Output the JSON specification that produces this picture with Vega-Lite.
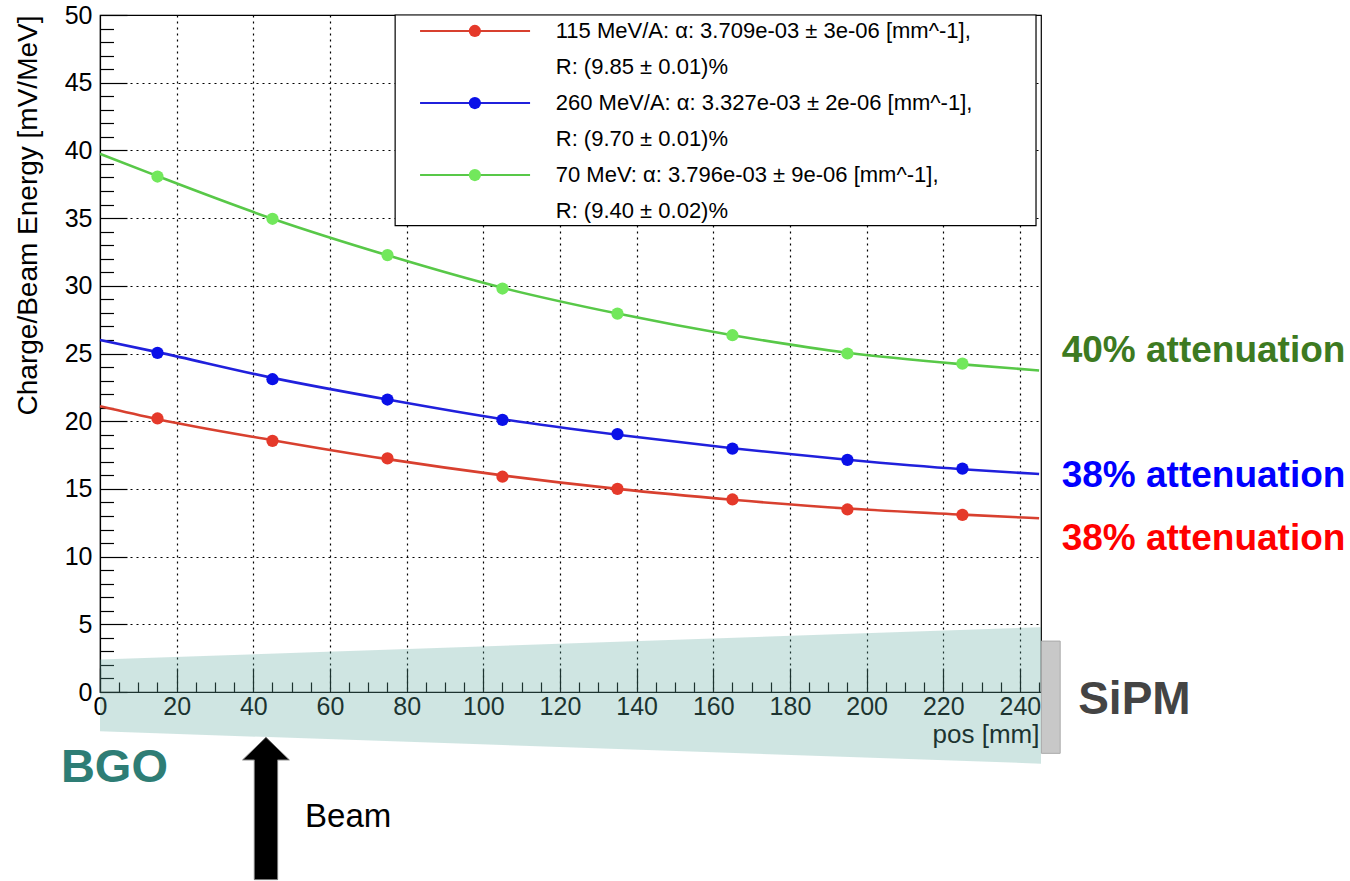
{
  "$schema": "https://vega.github.io/schema/vega-lite/v6.json",
  "width": 941,
  "height": 677,
  "autosize": {"type": "none"},
  "padding": {"left": 100, "top": 15, "right": 309, "bottom": 189},
  "background": "white",
  "config": {
    "font": "Liberation Sans",
    "view": {"stroke": "#000000", "strokeWidth": 1.2},
    "axis": {"zindex": 0}
  },
  "datasets": {
    "points": [
      {"series": "115", "pos": 15, "val": 20.2}, {"series": "115", "pos": 45, "val": 18.55}, {"series": "115", "pos": 75, "val": 17.25}, {"series": "115", "pos": 105, "val": 15.9},
      {"series": "115", "pos": 135, "val": 15.0}, {"series": "115", "pos": 165, "val": 14.22}, {"series": "115", "pos": 195, "val": 13.48}, {"series": "115", "pos": 225, "val": 13.08},
      {"series": "260", "pos": 15, "val": 25.05}, {"series": "260", "pos": 45, "val": 23.1}, {"series": "260", "pos": 75, "val": 21.6}, {"series": "260", "pos": 105, "val": 20.1},
      {"series": "260", "pos": 135, "val": 19.05}, {"series": "260", "pos": 165, "val": 17.98}, {"series": "260", "pos": 195, "val": 17.14}, {"series": "260", "pos": 225, "val": 16.5},
      {"series": "70", "pos": 15, "val": 38.07}, {"series": "70", "pos": 45, "val": 34.95}, {"series": "70", "pos": 75, "val": 32.27}, {"series": "70", "pos": 105, "val": 29.8},
      {"series": "70", "pos": 135, "val": 27.95}, {"series": "70", "pos": 165, "val": 26.35}, {"series": "70", "pos": 195, "val": 25.0}, {"series": "70", "pos": 225, "val": 24.25}
    ],
    "curves": [
      {"series": "115", "pos": 0, "val": 21.1}, {"series": "115", "pos": 15, "val": 20.15}, {"series": "115", "pos": 45, "val": 18.6}, {"series": "115", "pos": 75, "val": 17.2},
      {"series": "115", "pos": 105, "val": 16.0}, {"series": "115", "pos": 135, "val": 15.0}, {"series": "115", "pos": 165, "val": 14.2}, {"series": "115", "pos": 195, "val": 13.55},
      {"series": "115", "pos": 225, "val": 13.1}, {"series": "115", "pos": 245, "val": 12.83},
      {"series": "260", "pos": 0, "val": 26.0}, {"series": "260", "pos": 15, "val": 25.1}, {"series": "260", "pos": 45, "val": 23.2}, {"series": "260", "pos": 75, "val": 21.6},
      {"series": "260", "pos": 105, "val": 20.15}, {"series": "260", "pos": 135, "val": 19.0}, {"series": "260", "pos": 165, "val": 18.0}, {"series": "260", "pos": 195, "val": 17.15},
      {"series": "260", "pos": 225, "val": 16.45}, {"series": "260", "pos": 245, "val": 16.1},
      {"series": "70", "pos": 0, "val": 39.75}, {"series": "70", "pos": 15, "val": 38.1}, {"series": "70", "pos": 45, "val": 34.95}, {"series": "70", "pos": 75, "val": 32.25},
      {"series": "70", "pos": 105, "val": 29.85}, {"series": "70", "pos": 135, "val": 27.95}, {"series": "70", "pos": 165, "val": 26.35}, {"series": "70", "pos": 195, "val": 25.05},
      {"series": "70", "pos": 225, "val": 24.2}, {"series": "70", "pos": 245, "val": 23.75}
    ],
    "bgo": [
      {"pos": 0, "top": 2.4, "bottom": -2.9},
      {"pos": 245.5, "top": 4.79, "bottom": -5.29}
    ],
    "legend": [
      {"series": "115", "l1": "115 MeV/A: α: 3.709e-03 ± 3e-06 [mm^-1],", "l2": "R: (9.85 ± 0.01)%"},
      {"series": "260", "l1": "260 MeV/A: α: 3.327e-03 ± 2e-06 [mm^-1],", "l2": "R: (9.70 ± 0.01)%"},
      {"series": "70", "l1": "70 MeV: α: 3.796e-03 ± 9e-06 [mm^-1],", "l2": "R: (9.40 ± 0.02)%"}
    ]
  },
  "layer": [
    {
      "data": {"name": "curves"},
      "mark": {"type": "line", "strokeWidth": 2.6, "interpolate": "monotone"},
      "encoding": {
        "x": {
          "field": "pos", "type": "quantitative",
          "scale": {"domain": [0, 245.5], "nice": false, "zero": false},
          "axis": {
            "title": "pos [mm]",
            "tickCount": 49,
            "labelExpr": "datum.value % 20 === 0 ? datum.label : ''",
            "labelFontSize": 25, "labelColor": "#000000", "labelPadding": 26,
            "labelFlush": false, "labelOverlap": false, "labelBound": false,
            "tickSize": {"condition": {"test": "datum.value % 20 === 0", "value": -24}, "value": -10},
            "tickColor": "#000000", "tickWidth": 1.2,
            "domainColor": "#000000", "domainWidth": 1.2,
            "grid": true, "gridColor": "#000000", "gridDash": [2, 4], "gridWidth": 1.2,
            "gridOpacity": {"condition": {"test": "datum.value % 20 === 0 && datum.value > 0", "value": 1}, "value": 0},
            "titleFontSize": 26, "titleFontWeight": "normal", "titleColor": "#000000",
            "titleAnchor": "end", "titleAlign": "right", "titleX": 939, "titleY": 50, "titleBaseline": "alphabetic"
          }
        },
        "y": {
          "field": "val", "type": "quantitative",
          "scale": {"domain": [0, 50], "nice": false, "zero": false},
          "axis": {
            "title": "Charge/Beam Energy [mV/MeV]",
            "tickCount": 50,
            "labelExpr": "datum.value % 5 === 0 ? datum.label : ''",
            "labelFontSize": 25, "labelColor": "#000000", "labelPadding": 35,
            "labelFlush": false, "labelOverlap": false, "labelBound": false,
            "tickSize": {"condition": {"test": "datum.value % 5 === 0", "value": -27}, "value": -13.5},
            "tickColor": "#000000", "tickWidth": 1.2,
            "domainColor": "#000000", "domainWidth": 1.2,
            "grid": true, "gridColor": "#000000", "gridDash": [2, 4], "gridWidth": 1.2,
            "gridOpacity": {"condition": {"test": "datum.value % 5 === 0 && datum.value > 0 && datum.value < 50", "value": 1}, "value": 0},
            "titleFontSize": 28, "titleFontWeight": "normal", "titleColor": "#000000",
            "titleAnchor": "end", "titleAlign": "right", "titleAngle": -90, "titleX": -72, "titleY": 0, "titleBaseline": "middle"
          }
        },
        "stroke": {
          "field": "series", "type": "nominal",
          "scale": {"domain": ["115", "260", "70"], "range": ["#d8402f", "#2020dc", "#58c848"]},
          "legend": null
        }
      }
    },
    {
      "data": {"name": "points"},
      "mark": {"type": "point", "shape": "circle", "filled": true, "size": 150, "opacity": 1, "strokeWidth": 0},
      "encoding": {
        "x": {"field": "pos", "type": "quantitative"},
        "y": {"field": "val", "type": "quantitative"},
        "fill": {
          "field": "series", "type": "nominal",
          "scale": {"domain": ["115", "260", "70"], "range": ["#e5392a", "#0a10e8", "#72e85c"]},
          "legend": null
        }
      }
    },
    {
      "data": {"values": [{}]},
      "mark": {"type": "rect", "fill": "#ffffff", "stroke": "#000000", "strokeWidth": 1.2},
      "encoding": {
        "x": {"datum": 77}, "x2": {"datum": 244.2},
        "y": {"datum": 50}, "y2": {"datum": 34.45}
      }
    },
    {
      "data": {"name": "bgo"},
      "mark": {"type": "area", "fill": "#5fa8a0", "opacity": 0.3},
      "encoding": {
        "x": {"field": "pos", "type": "quantitative"},
        "y": {"field": "top", "type": "quantitative"},
        "y2": {"field": "bottom"}
      }
    },
    {
      "data": {"values": [{}]},
      "mark": {"type": "rect", "fill": "#c8c8c8", "stroke": "#a9a9a9", "strokeWidth": 1},
      "encoding": {
        "x": {"datum": 245.6}, "x2": {"datum": 250.5},
        "y": {"datum": 3.76}, "y2": {"datum": -4.53}
      }
    },
    {
      "data": {"values": [{}]},
      "mark": {"type": "point", "filled": true, "opacity": 1, "fill": "#000000", "stroke": "#777777", "strokeWidth": 1, "size": 20250,
               "shape": "M0,-1L0.328,-0.682L0.164,-0.682L0.164,1L-0.164,1L-0.164,-0.682L-0.328,-0.682Z"},
      "encoding": {"x": {"datum": 43.3}, "y": {"datum": -8.6}}
    },
    {
      "data": {"values": [{}]},
      "mark": {"type": "text", "text": "Beam", "fontSize": 33, "align": "left", "baseline": "alphabetic", "color": "#000000"},
      "encoding": {"x": {"datum": 53.5}, "y": {"datum": -9.95}}
    },
    {
      "data": {"values": [{}]},
      "mark": {"type": "text", "text": "BGO", "fontSize": 47, "fontWeight": "bold", "align": "left", "baseline": "alphabetic", "color": "#2e7d75"},
      "encoding": {"x": {"datum": -10.2}, "y": {"datum": -6.62}}
    },
    {
      "data": {"values": [{}]},
      "mark": {"type": "text", "text": "SiPM", "fontSize": 46, "fontWeight": "bold", "align": "left", "baseline": "alphabetic", "color": "#444444"},
      "encoding": {"x": {"datum": 255.2}, "y": {"datum": -1.66}}
    },
    {
      "data": {"values": [{}]},
      "mark": {"type": "text", "text": "40% attenuation", "fontSize": 37, "fontWeight": "bold", "align": "left", "baseline": "alphabetic", "color": "#3d7a21"},
      "encoding": {"x": {"datum": 250.9}, "y": {"datum": 24.39}}
    },
    {
      "data": {"values": [{}]},
      "mark": {"type": "text", "text": "38% attenuation", "fontSize": 37, "fontWeight": "bold", "align": "left", "baseline": "alphabetic", "color": "#0000ff"},
      "encoding": {"x": {"datum": 250.9}, "y": {"datum": 15.15}}
    },
    {
      "data": {"values": [{}]},
      "mark": {"type": "text", "text": "38% attenuation", "fontSize": 37, "fontWeight": "bold", "align": "left", "baseline": "alphabetic", "color": "#ff0000"},
      "encoding": {"x": {"datum": 250.9}, "y": {"datum": 10.47}}
    },
    {
      "data": {"name": "legend"},
      "transform": [{"filter": "datum.series === '115'"}],
      "encoding": {"y": {"datum": 48.82}},
      "layer": [
        {"mark": {"type": "rule", "strokeWidth": 2}, "encoding": {"x": {"datum": 83.5}, "x2": {"datum": 112.2}, "stroke": {"field": "series", "type": "nominal", "legend": null}}},
        {"mark": {"type": "point", "shape": "circle", "filled": true, "size": 150, "opacity": 1, "strokeWidth": 0}, "encoding": {"x": {"datum": 97.8}, "fill": {"field": "series", "type": "nominal", "legend": null}}},
        {"mark": {"type": "text", "fontSize": 22, "align": "left", "baseline": "middle", "color": "#000000"}, "encoding": {"x": {"datum": 118.9}, "text": {"field": "l1"}}},
        {"mark": {"type": "text", "fontSize": 22, "align": "left", "baseline": "middle", "dy": 36, "color": "#000000"}, "encoding": {"x": {"datum": 118.9}, "text": {"field": "l2"}}}
      ]
    },
    {
      "data": {"name": "legend"},
      "transform": [{"filter": "datum.series === '260'"}],
      "encoding": {"y": {"datum": 43.5}},
      "layer": [
        {"mark": {"type": "rule", "strokeWidth": 2}, "encoding": {"x": {"datum": 83.5}, "x2": {"datum": 112.2}, "stroke": {"field": "series", "type": "nominal", "legend": null}}},
        {"mark": {"type": "point", "shape": "circle", "filled": true, "size": 150, "opacity": 1, "strokeWidth": 0}, "encoding": {"x": {"datum": 97.8}, "fill": {"field": "series", "type": "nominal", "legend": null}}},
        {"mark": {"type": "text", "fontSize": 22, "align": "left", "baseline": "middle", "color": "#000000"}, "encoding": {"x": {"datum": 118.9}, "text": {"field": "l1"}}},
        {"mark": {"type": "text", "fontSize": 22, "align": "left", "baseline": "middle", "dy": 36, "color": "#000000"}, "encoding": {"x": {"datum": 118.9}, "text": {"field": "l2"}}}
      ]
    },
    {
      "data": {"name": "legend"},
      "transform": [{"filter": "datum.series === '70'"}],
      "encoding": {"y": {"datum": 38.18}},
      "layer": [
        {"mark": {"type": "rule", "strokeWidth": 2}, "encoding": {"x": {"datum": 83.5}, "x2": {"datum": 112.2}, "stroke": {"field": "series", "type": "nominal", "legend": null}}},
        {"mark": {"type": "point", "shape": "circle", "filled": true, "size": 150, "opacity": 1, "strokeWidth": 0}, "encoding": {"x": {"datum": 97.8}, "fill": {"field": "series", "type": "nominal", "legend": null}}},
        {"mark": {"type": "text", "fontSize": 22, "align": "left", "baseline": "middle", "color": "#000000"}, "encoding": {"x": {"datum": 118.9}, "text": {"field": "l1"}}},
        {"mark": {"type": "text", "fontSize": 22, "align": "left", "baseline": "middle", "dy": 36, "color": "#000000"}, "encoding": {"x": {"datum": 118.9}, "text": {"field": "l2"}}}
      ]
    }
  ]
}
